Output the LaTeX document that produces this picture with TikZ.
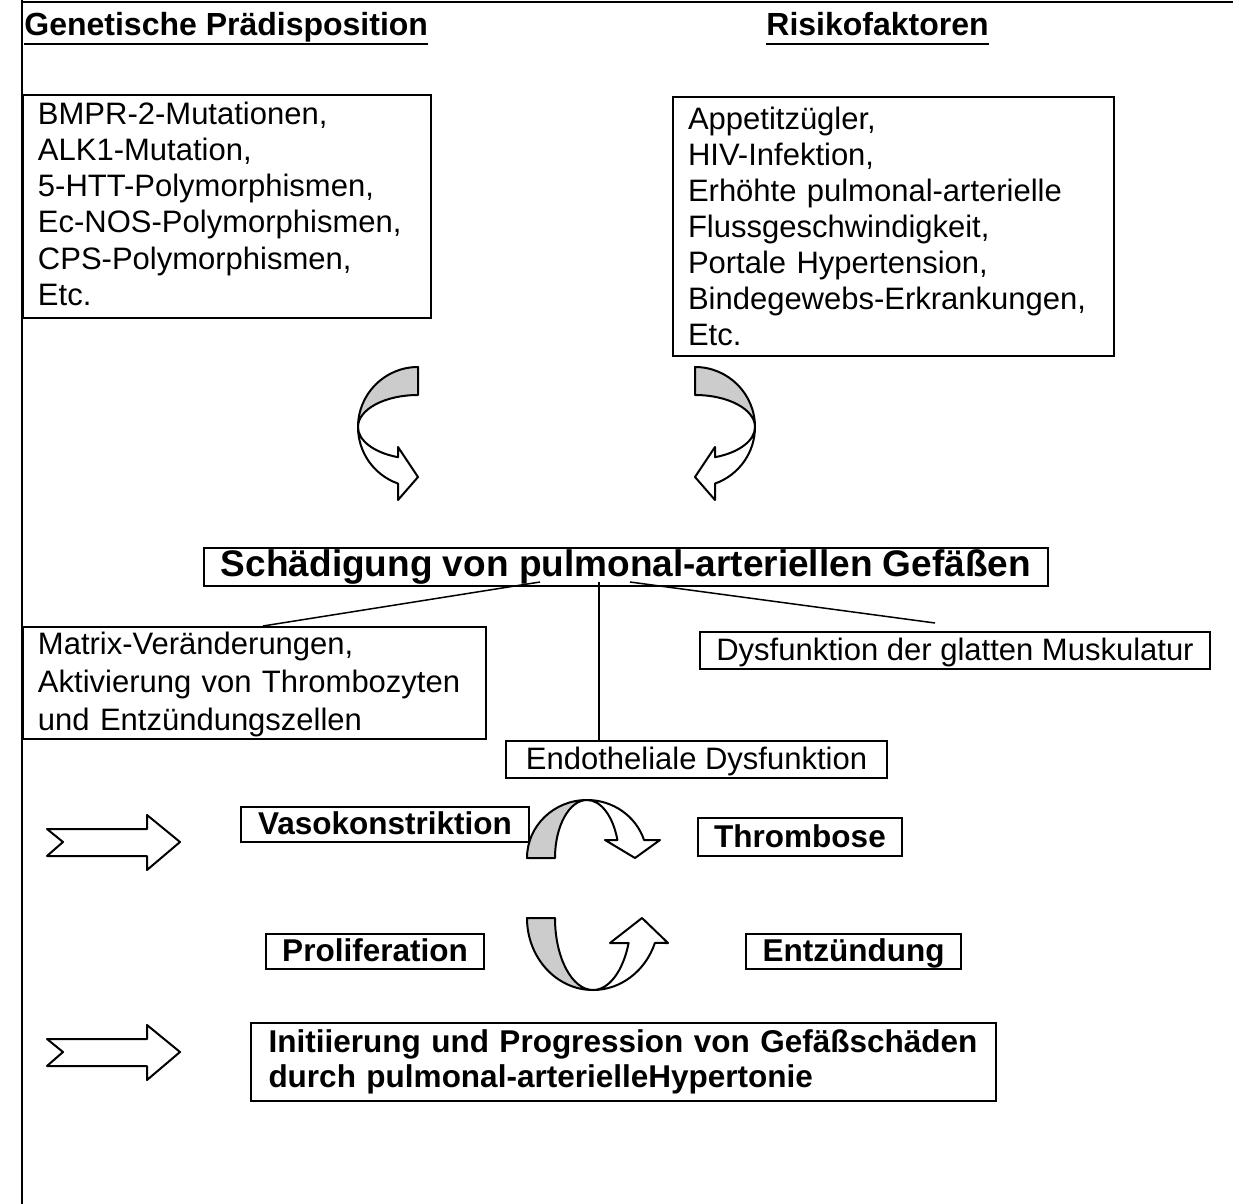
\documentclass[tikz,border=0pt]{standalone}
\usepackage{fontspec}
\setmainfont{Liberation Sans}
\definecolor{bandgray}{RGB}{204,204,204}
\begin{document}
\begin{tikzpicture}[x=0.5pt,y=-0.5pt,
  box/.style={draw, line width=1pt, inner ysep=0pt, inner xsep=7.5pt, anchor=north west},
  lbox/.style={box, align=left},
  cbox/.style={box, align=center, text height=11pt, text depth=1pt,
    font=\fontsize{15.75}{17}\selectfont\bfseries},
  rbox/.style={box, align=center, text height=10.5pt, text depth=0.5pt,
    font=\fontsize{15.5}{17}\selectfont},
  hdr/.style={inner sep=0pt, anchor=base west, font=\fontsize{16}{18}\selectfont\bfseries},
  link/.style={line width=0.75pt},
  outl/.style={line width=1pt, line join=round},
  band/.style={outl, fill=bandgray},
  front/.style={outl, fill=white}]
\useasboundingbox (0,0) rectangle (1233,1204);
\fill[white] (0,0) rectangle (1233,1204);
% frame
\draw[line width=1pt] (22,0) -- (22,1204);
\draw[line width=1pt] (22,2) -- (1233,2);
% headers
\node[hdr] (h1) at (24,36) {Genetische Prädisposition};
\node[hdr] (h2) at (766,36) {Risikofaktoren};
\draw[line width=1pt] ([yshift=-4pt]h1.base west) -- ([yshift=-4pt]h1.base east);
\draw[line width=1pt] ([yshift=-4pt]h2.base west) -- ([yshift=-4pt]h2.base east);
% top boxes
\node[lbox, minimum width=204pt, minimum height=111.5pt, text width=189pt,
  font=\fontsize{15.5}{18.1}\selectfont] (gen) at (22,94)
  {BMPR-2-Mutationen,\\ALK1-Mutation,\\5-HTT-Polymorphismen,\\Ec-NOS-Polymorphismen,\\CPS-Polymorphismen,\\Etc.\rule[-3pt]{0pt}{3pt}};
\node[lbox, minimum width=220.5pt, minimum height=129.5pt, text width=205.5pt,
  font=\fontsize{15.5}{18}\selectfont] (risk) at (672,96)
  {Appetitzügler,\\HIV-Infektion,\\Erhöhte pulmonal-arterielle\\Flussgeschwindigkeit,\\Portale Hypertension,\\Bindegewebs-Erkrankungen,\\Etc.};
% curved arrows (left)
\filldraw[front] (358,427) arc[start angle=180, end angle=109.47, x radius=60, y radius=60]
  -- (398,500) -- (418,477) -- (398,447) -- (398,457.2)
  arc[start angle=109.47, end angle=180, x radius=60, y radius=32] -- cycle;
\filldraw[band] (418,367) arc[start angle=270, end angle=180, x radius=60, y radius=60]
  arc[start angle=180, end angle=270, x radius=60, y radius=32] -- cycle;
% curved arrows (right)
\filldraw[front] (755,427) arc[start angle=0, end angle=70.53, x radius=60, y radius=60]
  -- (715,500) -- (695,477) -- (715,447) -- (715,457.2)
  arc[start angle=70.53, end angle=0, x radius=60, y radius=32] -- cycle;
\filldraw[band] (695,367) arc[start angle=270, end angle=360, x radius=60, y radius=60]
  arc[start angle=0, end angle=-90, x radius=60, y radius=32] -- cycle;
% title
\node[box, align=center, inner xsep=0pt, minimum width=422pt, minimum height=19pt,
  font=\fontsize{18.5}{20}\selectfont\bfseries] (title) at (203,547)
  {Schädigung von pulmonal-arteriellen Gefäßen};
% second level boxes
\node[lbox, minimum width=231.5pt, minimum height=56pt, text width=216.5pt,
  font=\fontsize{15.5}{19}\selectfont] (matrix) at (22,626)
  {\rule{0pt}{13pt}Matrix-Veränderungen,\\Aktivierung von Thrombozyten\\und Entzündungszellen};
\node[rbox, minimum width=255pt, minimum height=18.5pt] (smc) at (699,631)
  {Dysfunktion der glatten Muskulatur};
\node[rbox, minimum width=190.5pt, minimum height=18.5pt] (endo) at (505,740)
  {Endotheliale Dysfunktion};
% connectors
\coordinate (s1) at (540,582);
\coordinate (s2) at (599,582);
\coordinate (s3) at (630,582);
\coordinate (e1) at (263,626);
\coordinate (e3) at (935,623);
\draw[link] (s1) -- (e1);
\draw[link] (s2) -- (s2 |- endo.north);
\draw[link] (s3) -- (e3);
% horizontal notched arrows
\foreach \dy in {0,210}{
  \filldraw[front] (47,829+\dy) -- (147,829+\dy) -- (147,815+\dy) -- (180,842+\dy)
    -- (147,870+\dy) -- (147,856+\dy) -- (47,856+\dy) -- (63,842+\dy) -- cycle;
}
% cycle boxes
\node[cbox, minimum width=144pt, minimum height=17.5pt] (vaso) at (240,806) {Vasokonstriktion};
\node[cbox, minimum width=102pt, minimum height=19pt] (thromb) at (697,817) {Thrombose};
\node[cbox, minimum width=109pt, minimum height=17.5pt] (prolif) at (265,933) {Proliferation};
\node[cbox, minimum width=107.5pt, minimum height=17.5pt] (entz) at (745,933) {Entzündung};
% top cycle arrow
\filldraw[front] (587,800) arc[start angle=270, end angle=341.92, x radius=60, y radius=58]
  -- (660,840) -- (635,858) -- (605,840) -- (617.4,840)
  arc[start angle=341.92, end angle=270, x radius=32, y radius=58] -- cycle;
\filldraw[band] (527,858) arc[start angle=180, end angle=270, x radius=60, y radius=58]
  arc[start angle=270, end angle=180, x radius=32, y radius=58] -- cycle;
% bottom cycle arrow
\filldraw[front] (593,990) arc[start angle=90, end angle=20.3, x radius=66, y radius=72]
  -- (668,943) -- (642,918) -- (610,943) -- (628.6,943)
  arc[start angle=20.3, end angle=90, x radius=38, y radius=72] -- cycle;
\filldraw[band] (527,918) arc[start angle=180, end angle=90, x radius=66, y radius=72]
  arc[start angle=90, end angle=180, x radius=38, y radius=72] -- cycle;
% bottom box
\node[lbox, minimum width=372.5pt, minimum height=39pt, text width=355pt, inner xsep=8.75pt,
  font=\fontsize{15.75}{17.5}\selectfont\bfseries] (result) at (250,1022)
  {Initiierung und Progression von Gefäßschäden\\durch pulmonal-arterielleHypertonie};
\end{tikzpicture}
\end{document}
